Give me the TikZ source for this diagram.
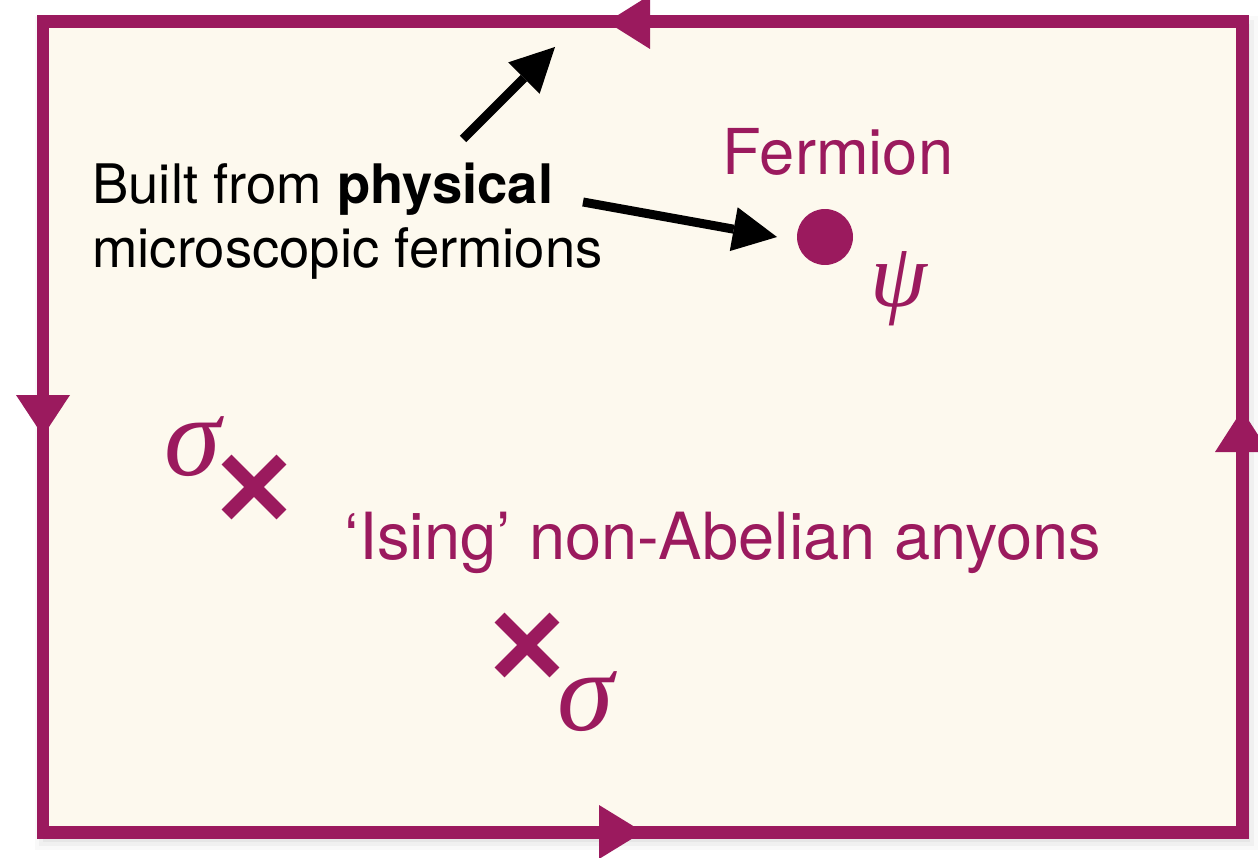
\documentclass[tikz,border=0pt]{standalone}
\usepackage{fontspec}
\setmainfont{TeX Gyre Heros}
\newfontfamily\greekfont{Liberation Serif}
\usepackage{tikz}
\usetikzlibrary{arrows.meta,positioning,shapes.misc}
\definecolor{isingMagenta}{RGB}{155,26,94}
\definecolor{creamFill}{RGB}{253,249,238}

\begin{document}
\begin{tikzpicture}[x=0.02cm,y=-0.02cm,
  edge/.style={isingMagenta, line width=0.26cm},
  flowtip/.style={fill=isingMagenta},
  pointer/.style={black, line width=0.18cm, -{Triangle[length=0.88cm,width=0.89cm,line width=0pt]}},
  anyon/.style={cross out, draw=isingMagenta, line width=0.28cm, minimum size=0.82cm, inner sep=0pt},
  greek/.style={text=isingMagenta, font=\greekfont\itshape\fontsize{65}{65}\selectfont, inner sep=0pt}
]
\useasboundingbox (0,0) rectangle (1258,858);

% soft shadow and the sheet
\foreach \s/\o in {12/0.025,8/0.035,4/0.045}
  \fill[black, opacity=\o] (43-\s+4,22-\s+6) rectangle (1242+\s+4,832+\s+6);
\fill[creamFill] (43,22) rectangle (1242,832);
\draw[edge] (43,22) rectangle (1242,832);

% orientation of the edge
\fill[flowtip] (607,22) -- (650,-5) -- (650,49) -- cycle;
\fill[flowtip] (43,436) -- (16,395) -- (70,395) -- cycle;
\fill[flowtip] (643,832) -- (599,805) -- (599,859) -- cycle;
\fill[flowtip] (1242,410) -- (1215,452) -- (1269,452) -- cycle;

\node[font=\fontsize{31}{36}\selectfont, align=left, anchor=north west, inner sep=0pt] (origin) at (92,163)
  {Built from \textbf{physical}\\microscopic fermions};

\node[font=\fontsize{36}{40}\selectfont, text=isingMagenta, anchor=base] (fermionlabel) at (838,175) {Fermion};
\node[circle, fill=isingMagenta, minimum size=1.12cm, inner sep=0pt] (fermion) at (825,237) {};
\node[greek, font=\greekfont\itshape\fontsize{52}{52}\selectfont] (psi) at (899,289) {ψ};

\node[anyon] (anyonA) at (254,487) {};
\node[greek] (sigmaA) at (193,447) {σ};
\node[anyon] (anyonB) at (527,645) {};
\node[greek] (sigmaB) at (586,702) {σ};

\node[font=\fontsize{37}{40}\selectfont, text=isingMagenta, anchor=base] (isinglabel) at (723,559)
  {‘Ising’ non-Abelian anyons};

\coordinate (tailA) at (463,139);
\coordinate (aimA) at (555,47);
\draw[pointer] (tailA) -- (aimA);
\coordinate (tailB) at (583,202);
\coordinate (aimB) at (777,237);
\draw[pointer] (tailB) -- (aimB);
\end{tikzpicture}
\end{document}
